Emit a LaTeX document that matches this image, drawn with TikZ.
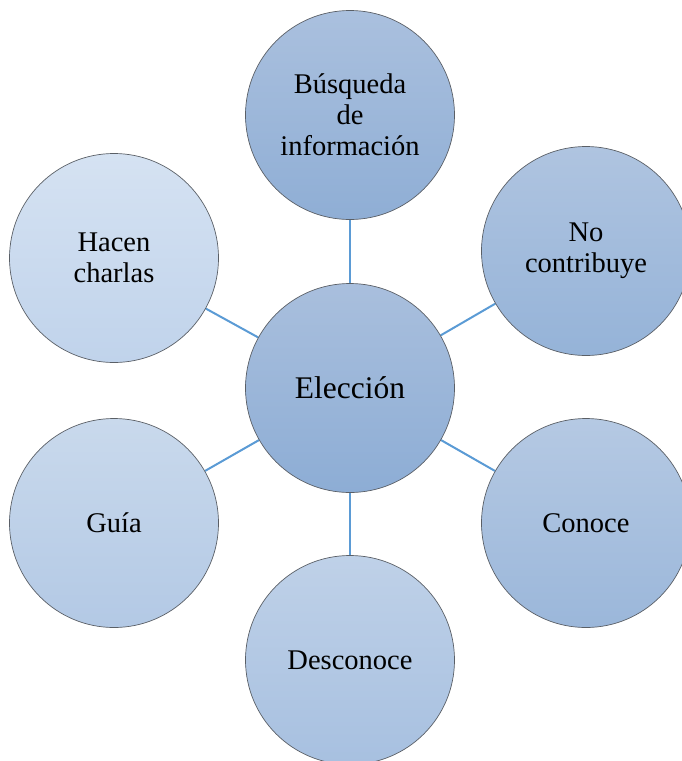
\documentclass[tikz,border=0pt]{standalone}
\usepackage{fontspec}
\setmainfont{Liberation Serif}
\usetikzlibrary{backgrounds}
\definecolor{linkblue}{HTML}{5B9BD5}
\definecolor{rimgray}{HTML}{5A5F66}
\begin{document}
\begin{tikzpicture}[x=1pt,y=-1pt,
  bubble/.style={circle, draw=rimgray, line width=0.7pt, minimum size=209pt,
    inner sep=0pt, align=center, font=\fontsize{28.5}{31}\selectfont},
  link/.style={draw=linkblue, line width=2pt}]
\useasboundingbox (0,0) rectangle (681,761);
\node[bubble, top color={rgb,255:red,169;green,191;blue,221}, bottom color={rgb,255:red,141;green,173;blue,213},
  font=\fontsize{31.5}{34}\selectfont] (c) at (350,388) {Elección};
\node[bubble, top color={rgb,255:red,170;green,192;blue,222}, bottom color={rgb,255:red,143;green,174;blue,213}] (top) at (350,115) {Búsqueda\\de\\información};
\node[bubble, top color={rgb,255:red,175;green,196;blue,224}, bottom color={rgb,255:red,149;green,179;blue,216}] (tr) at (586,251) {No\\contribuye};
\node[bubble, top color={rgb,255:red,181;green,201;blue,227}, bottom color={rgb,255:red,155;green,183;blue,218}] (br) at (586,523) {Conoce};
\node[bubble, top color={rgb,255:red,191;green,209;blue,232}, bottom color={rgb,255:red,167;green,192;blue,224}] (bot) at (350,660) {Desconoce};
\node[bubble, top color={rgb,255:red,201;green,217;blue,236}, bottom color={rgb,255:red,179;green,201;blue,229}] (bl) at (114,523) {Guía};
\node[bubble, top color={rgb,255:red,213;green,226;blue,242}, bottom color={rgb,255:red,192;green,211;blue,235}] (tl) at (114,258) {Hacen\\charlas};
\begin{scope}[on background layer]
\draw[link] (c) -- (top);
\draw[link] (c) -- (tr);
\draw[link] (c) -- (br);
\draw[link] (c) -- (bot);
\draw[link] (c) -- (bl);
\draw[link] (c) -- (tl);
\end{scope}
\end{tikzpicture}
\end{document}
